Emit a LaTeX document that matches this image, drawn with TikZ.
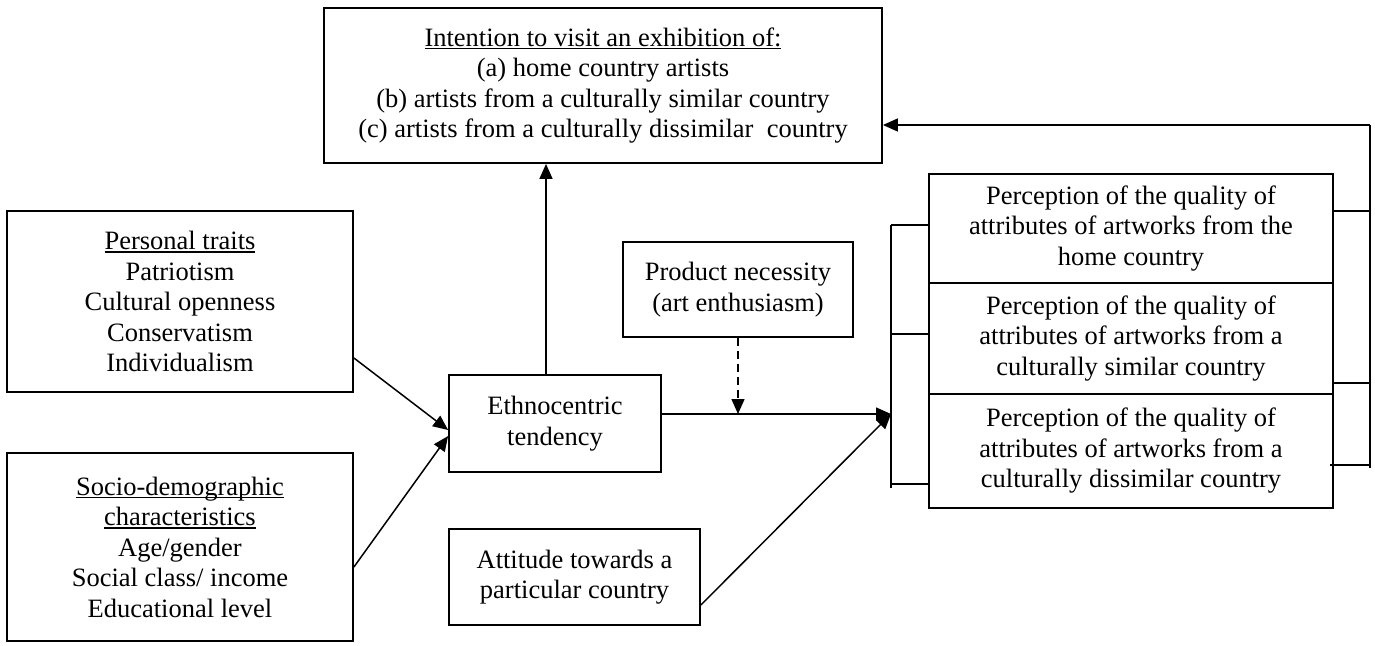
\documentclass[tikz,border=0pt]{standalone}
\usepackage{fontspec}
\setmainfont{Liberation Serif}
\usetikzlibrary{arrows.meta}

% underline at a fixed depth below the baseline, independent of descenders
\newcommand{\undl}[1]{\leavevmode\setbox0=\hbox{#1}\rlap{\rule[-3.2pt]{\wd0}{1.3pt}}\box0}

\tikzset{
  box/.style={draw, line width=1.8pt, rectangle, inner sep=0pt, align=center,
              font=\fontsize{26.5}{30.5}\selectfont},
  conn/.style={line width=1.5pt},
  arr/.style={line width=1.5pt, -{Triangle[length=15pt,width=13pt]}},
  dasharr/.style={arr, dash pattern=on 8pt off 5pt}
}

\begin{document}
\begin{tikzpicture}[x=1pt, y=-1pt]
\useasboundingbox (0,0) rectangle (1375,645);

% outcome
\node[box, minimum width=558pt, minimum height=155pt] (intent) at (603,85.5)
  {\undl{Intention to visit an exhibition of:}\\
   (a) home country artists\\
   (b) artists from a culturally similar country\\
   (c) artists from a culturally dissimilar~ country};

% antecedents
\node[box, minimum width=346pt, minimum height=181pt] (traits) at (180,301.5)
  {\undl{Personal traits}\\ Patriotism\\ Cultural openness\\ Conservatism\\ Individualism};
\node[box, minimum width=346pt, minimum height=188pt] (socio) at (180,547)
  {\undl{Socio-demographic}\\ \undl{characteristics}\\ Age/gender\\ Social class/ income\\ Educational level};

\node[box, minimum width=212pt, minimum height=97pt] (ethno) at (555,423.5)
  {Ethnocentric\\ tendency};
\node[box, minimum width=230pt, minimum height=95pt] (prod) at (738,289.5)
  {Product necessity\\ (art enthusiasm)};
\node[box, minimum width=251pt, minimum height=96pt] (att) at (574.5,577)
  {Attitude towards a\\ particular country};

% stacked perception boxes
\node[box, minimum width=404pt, minimum height=109pt] (p1) at (1131,228.5)
  {Perception of the quality of\\ attributes of artworks from the\\ home country};
\node[box, minimum width=404pt, minimum height=111pt] (p2) at (1131,338.5)
  {Perception of the quality of\\ attributes of artworks from a\\ culturally similar country};
\node[box, minimum width=404pt, minimum height=114pt] (p3) at (1131,451)
  {Perception of the quality of\\ attributes of artworks from a\\ culturally dissimilar country};

% bracket joining the perception boxes on the left
\coordinate (brtop) at (891,225);
\coordinate (brbot) at (891,488);
\coordinate (join) at (891,414);
\draw[conn] (brtop) -- (brbot);
\draw[conn] (brtop) -- (brtop -| p1.west);
\draw[conn] ([yshift=4.5pt]p2.west) -- ([yshift=4.5pt]p2.west -| brtop);
\draw[conn] ([yshift=-33pt]p3.west) -- ([yshift=-33pt]p3.west -| brtop);

% feedback bracket on the right
\coordinate (fbtop) at (1370,125);
\coordinate (fbbot) at (1370,468);
\draw[conn] (fbbot) -- (fbtop);
\draw[conn] ([yshift=17.5pt]p1.east) -- ([yshift=17.5pt]p1.east -| fbtop);
\draw[conn] ([yshift=-44.5pt]p2.east) -- ([yshift=-44.5pt]p2.east -| fbtop);
\draw[conn] ([xshift=-4pt,yshift=-14pt]p3.east) -- ([yshift=-14pt]p3.east -| fbtop);
\draw[arr] (fbtop) -- (fbtop -| intent.east);

% causal paths
\draw[arr] ([yshift=-56.5pt]traits.east) -- ([yshift=-6.5pt]ethno.west);
\draw[arr] ([yshift=-20pt]socio.east) -- ([yshift=-12.5pt]ethno.west);
\draw[arr] ([xshift=-9pt]ethno.north) -- ([xshift=-9pt]ethno.north |- intent.south);
\draw[arr] ([yshift=9.5pt]ethno.east) -- (join);
\draw[arr] ([yshift=-28pt]att.east) -- (join);
\draw[dasharr] (prod.south) -- (prod.south |- join);
\end{tikzpicture}
\end{document}
